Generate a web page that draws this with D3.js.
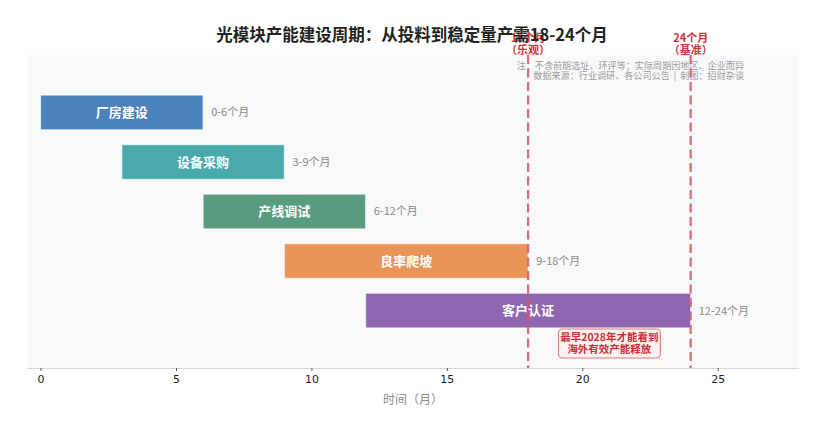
<!DOCTYPE html>
<html><head><meta charset="utf-8">
<script src="https://cdn.jsdelivr.net/npm/d3@7"></script>
<style>
html,body{margin:0;padding:0;background:#fff;}
svg{display:block;font-family:"Noto Sans CJK SC","Noto Sans",sans-serif;}
</style></head>
<body><svg id="c" width="825" height="435"></svg>
<script>
const stages = ["厂房建设","设备采购","产线调试","良率爬坡","客户认证"];
const starts = [0,3,6,9,12];
const ends = [6,9,12,18,24];
const durLabels = ["0-6个月","3-9个月","6-12个月","9-18个月","12-24个月"];
const colors = ["#4C82BC","#4AA9AA","#5A9C80","#E9955A","#8E67B0"];
const xTicks = [0,5,10,15,20,25];
const refLines = [18,24];
const refLabels = [["18个月","（乐观）"],["24个月","（基准）"]];
const title = "光模块产能建设周期：从投料到稳定量产需18-24个月";
const notes = ["注：不含前期选址、环评等；实际周期因地区、企业而异","数据来源：行业调研、各公司公告  |  制图：招财杂谈"];
const callout = ["最早2028年才能看到","海外有效产能释放"];

const svg = d3.select("#c");
const L=27,R=799,T=55,B=368;
const x = d3.scaleLinear().domain([-0.5,28]).range([L,R]);
const y = d3.scaleLinear().domain([-1.16,5.16]).range([T,B]);
const bh = y(0.35)-y(-0.35);

svg.append("rect").attr("x",L).attr("y",T).attr("width",R-L).attr("height",B-T).attr("fill","#f8f9fb");

// bars
const g = svg.append("g");
stages.forEach((s,i)=>{
  g.append("rect").attr("x",x(starts[i])).attr("y",y(i)-bh/2)
   .attr("width",x(ends[i])-x(starts[i])).attr("height",bh)
   .attr("fill",colors[i]).attr("stroke","#ffffff").attr("stroke-opacity",0.6).attr("stroke-width",1.2);
  g.append("text").attr("x",(x(starts[i])+x(ends[i]))/2).attr("y",y(i)).attr("dy","0.36em")
   .attr("text-anchor","middle").attr("fill","#fff").attr("font-weight","bold").attr("font-size",13).text(s);
  g.append("text").attr("x",x(ends[i]+0.3)).attr("y",y(i)).attr("dy","0.36em")
   .attr("fill","#8a8a8a").attr("font-size",11).text(durLabels[i]);
});

// axis
const ax = svg.append("g").attr("transform",`translate(0,${B})`)
  .call(d3.axisBottom(x).tickValues(xTicks).tickSize(3).tickPadding(4));
ax.select(".domain").attr("stroke","#d6d6d6").attr("d",`M${L},0.5H${R}`);
ax.selectAll(".tick line").attr("stroke","#555");
ax.selectAll("text").attr("font-size",11).attr("fill","#222").attr("font-family","'DejaVu Sans',sans-serif");
svg.append("text").attr("x",(L+R)/2).attr("y",404).attr("text-anchor","middle")
  .attr("fill","#8a8a8a").attr("font-size",12).text("时间（月）");

// notes
notes.forEach((n,i)=>{
  svg.append("text").attr("x",744).attr("y",69+i*10).attr("text-anchor","end")
   .attr("fill","#9a9a9a").attr("font-size",9.1).attr("xml:space","preserve").style("white-space","pre").text(n);
});

// reference lines
refLines.forEach((v,i)=>{
  svg.append("line").attr("x1",x(v)).attr("x2",x(v)).attr("y1",T).attr("y2",B)
   .attr("stroke","#d6575d").attr("stroke-opacity",0.85).attr("stroke-width",2.3).attr("stroke-dasharray","9,4.5");
  refLabels[i].forEach((t,j)=>{
    svg.append("text").attr("x",x(v)).attr("y",42+j*12).attr("text-anchor","middle")
     .attr("fill","#d0343a").attr("font-weight","bold").attr("font-size",11).text(t);
  });
});

// callout
const cx = x((refLines[0]+refLines[1])/2), cy = 343.5;
svg.append("rect").attr("x",cx-51).attr("y",cy-14.5).attr("width",102).attr("height",29).attr("rx",4)
  .attr("fill","#fdf1f1").attr("stroke","#e07a7d").attr("stroke-width",1.1);
callout.forEach((t,j)=>{
  svg.append("text").attr("x",cx).attr("y",cy-6+j*12).attr("dy","0.36em").attr("text-anchor","middle")
   .attr("fill","#cc2f35").attr("font-weight","bold").attr("font-size",10.5).text(t);
});

// title (drawn on top, as in the reference)
svg.append("text").attr("x",412).attr("y",41).attr("text-anchor","middle")
  .attr("font-size",16.5).attr("font-weight","bold").attr("fill","#222").text(title);
</script></body></html>
